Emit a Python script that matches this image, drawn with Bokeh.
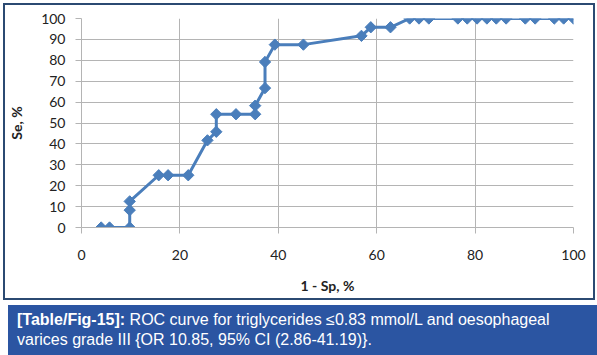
import numpy as np
from bokeh.plotting import figure
from bokeh.layouts import column
from bokeh.models import Div, Range1d, FixedTicker
from bokeh.embed import file_html
from bokeh.resources import INLINE

# ROC curve points (1 - Sp, %) vs (Se, %)
fpr = [4.0, 5.7, 9.8, 9.8, 9.8, 15.7, 17.6, 21.7, 25.6, 27.4, 27.4, 31.4, 35.3, 35.3,
       37.3, 37.3, 39.3, 45.1, 56.9, 58.8, 62.8, 66.7, 68.6, 70.6, 76.5, 78.4, 80.4,
       82.4, 84.3, 86.3, 90.2, 92.2, 96.1, 98.0, 100.0]
tpr = [0.0, 0.0, 0.0, 8.3, 12.5, 25.0, 25.0, 25.0, 41.7, 45.8, 54.2, 54.2, 54.2, 58.3,
       66.7, 79.2, 87.5, 87.5, 91.7, 95.8, 95.8, 100.0, 100.0, 100.0, 100.0, 100.0, 100.0,
       100.0, 100.0, 100.0, 100.0, 100.0, 100.0, 100.0, 100.0]
x_ticks = [0, 20, 40, 60, 80, 100]
y_ticks = [0, 10, 20, 30, 40, 50, 60, 70, 80, 90, 100]

line_color = "#4a7ebb"
grid_color = "#b4b4b4"
font = "Lato"

p = figure(width=588, height=293, output_backend="svg", toolbar_location=None,
           x_range=Range1d(0, 100), y_range=Range1d(0, 100),
           min_border_left=74, min_border_right=20, min_border_top=13, min_border_bottom=71)
p.outline_line_color = None
p.background_fill_color = "white"
p.border_fill_color = "white"

p.line(fpr, tpr, line_color=line_color, line_width=3)
p.scatter(fpr, tpr, marker="square", angle=np.pi / 4, size=8,
          fill_color=line_color, line_color=line_color)

p.xaxis.ticker = FixedTicker(ticks=x_ticks)
p.yaxis.ticker = FixedTicker(ticks=y_ticks)
p.xgrid.ticker = FixedTicker(ticks=x_ticks)
p.ygrid.ticker = FixedTicker(ticks=y_ticks)
for g in (p.xgrid, p.ygrid):
    g.grid_line_color = grid_color
    g.grid_line_width = 1

for ax in (p.xaxis, p.yaxis):
    ax.axis_line_color = grid_color
    ax.major_tick_line_color = grid_color
    ax.minor_tick_line_color = None
    ax.major_tick_in = 0
    ax.major_tick_out = 6
    ax.major_label_text_font = font
    ax.major_label_text_font_size = "14px"
    ax.major_label_text_color = "#222222"
    ax.axis_label_text_font = font
    ax.axis_label_text_font_size = "14px"
    ax.axis_label_text_font_style = "bold"
    ax.axis_label_text_color = "#222222"

p.xaxis.axis_label = "1 - Sp, %"
p.yaxis.axis_label = "Se, %"
p.xaxis.major_label_standoff = 16
p.xaxis.axis_label_standoff = 14
p.yaxis.major_label_standoff = 10
p.yaxis.axis_label_standoff = 13

boxed = column(p, styles={"border": "2px solid #2b4a72"})

caption = Div(
    text='<span style="font-weight:bold">[Table/Fig-15]:</span>'
         '<span> ROC curve for triglycerides ≤0.83 mmol/L and oesophageal</span><br>'
         '<span>varices grade III {OR 10.85, 95% CI (2.86-41.19)}.</span>',
    width=594, height=55,
    styles={"background-color": "#2b55a2", "color": "white",
            "font-family": "'Liberation Sans', Arial, sans-serif", "font-size": "16px",
            "line-height": "20px", "padding": "5px 9px 0 9px", "box-sizing": "border-box",
            "white-space": "nowrap"})

layout = column(boxed, caption, spacing=0,
                styles={"padding-left": "3px", "padding-top": "3px", "background-color": "white"})

open("out.html", "w").write(file_html(layout, INLINE))
